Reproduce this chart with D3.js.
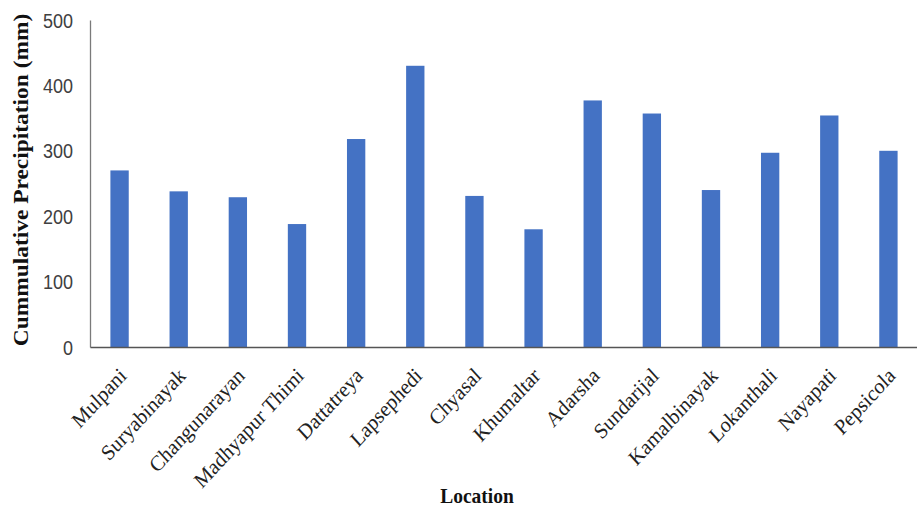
<!DOCTYPE html>
<html>
<head>
<meta charset="utf-8">
<script src="https://cdn.jsdelivr.net/npm/d3@7"></script>
<style>
  html, body { margin: 0; padding: 0; background: #fff; }
  svg { display: block; }
</style>
</head>
<body>
<svg id="chart" width="917" height="509"></svg>
<script>
// Cumulative precipitation per location (mm)
const locations = ["Mulpani", "Suryabinayak", "Changunarayan", "Madhyapur Thimi", "Dattatreya",
  "Lapsephedi", "Chyasal", "Khumaltar", "Adarsha", "Sundarijal", "Kamalbinayak",
  "Lokanthali", "Nayapati", "Pepsicola"];
const precipitation = [270, 238, 229, 188, 318, 430, 231, 180, 377, 357, 240, 297, 354, 300];
const yTicks = [0, 100, 200, 300, 400, 500];

const serif = "'Liberation Serif', 'Times New Roman', serif";
const sans = "'Liberation Sans', Arial, sans-serif";
const stretchY = 1.09; // text is drawn slightly taller than wide

const svg = d3.select("#chart");
const x0 = 90, x1 = 918;
const yBase = 347, yTop = 20;

const x = d3.scaleBand().domain(locations).range([x0, x1]).paddingInner(0.69).paddingOuter(0.345);
const y = d3.scaleLinear().domain([0, 500]).range([yBase, yTop]);

// Bars
svg.append("g").selectAll("rect")
  .data(locations)
  .join("rect")
  .attr("x", d => x(d))
  .attr("width", x.bandwidth())
  .attr("y", (d, i) => y(precipitation[i]))
  .attr("height", (d, i) => yBase - y(precipitation[i]))
  .attr("fill", "#4472C4");

// Y axis
const yAxis = svg.append("g")
  .attr("transform", `translate(${x0},0)`)
  .call(d3.axisLeft(y).tickValues(yTicks).tickSize(0).tickPadding(0));
yAxis.select(".domain").attr("stroke", "#7a7a7a").attr("stroke-width", 1.3);
yAxis.selectAll("text")
  .attr("x", 0)
  .attr("dy", "0.36em")
  .attr("transform", `translate(-17,0) scale(1,${stretchY})`)
  .attr("font-family", sans)
  .attr("font-size", 18)
  .attr("fill", "#404040");

// X axis
const xAxis = svg.append("g")
  .attr("transform", `translate(0,${yBase})`)
  .call(d3.axisBottom(x).tickSize(0).tickPadding(0));
xAxis.select(".domain").attr("stroke", "#555").attr("stroke-width", 1.5);
xAxis.selectAll("text")
  .attr("font-family", serif)
  .attr("font-size", 20)
  .attr("fill", "#222")
  .attr("text-anchor", "end")
  .attr("y", 0)
  .attr("dy", 0)
  .attr("transform", `translate(8,30) scale(1,${stretchY}) rotate(-45)`);

// Axis titles
svg.append("text")
  .attr("transform", `translate(28,180) scale(1,${stretchY}) rotate(-90)`)
  .attr("text-anchor", "middle")
  .attr("font-family", serif)
  .attr("font-weight", "bold")
  .attr("font-size", 21.5)
  .attr("fill", "#111")
  .text("Cummulative Precipitation (mm)");

svg.append("text")
  .attr("transform", `translate(477,503) scale(1,${stretchY})`)
  .attr("text-anchor", "middle")
  .attr("font-family", serif)
  .attr("font-weight", "bold")
  .attr("font-size", 19.5)
  .attr("fill", "#111")
  .text("Location");
</script>
</body>
</html>
